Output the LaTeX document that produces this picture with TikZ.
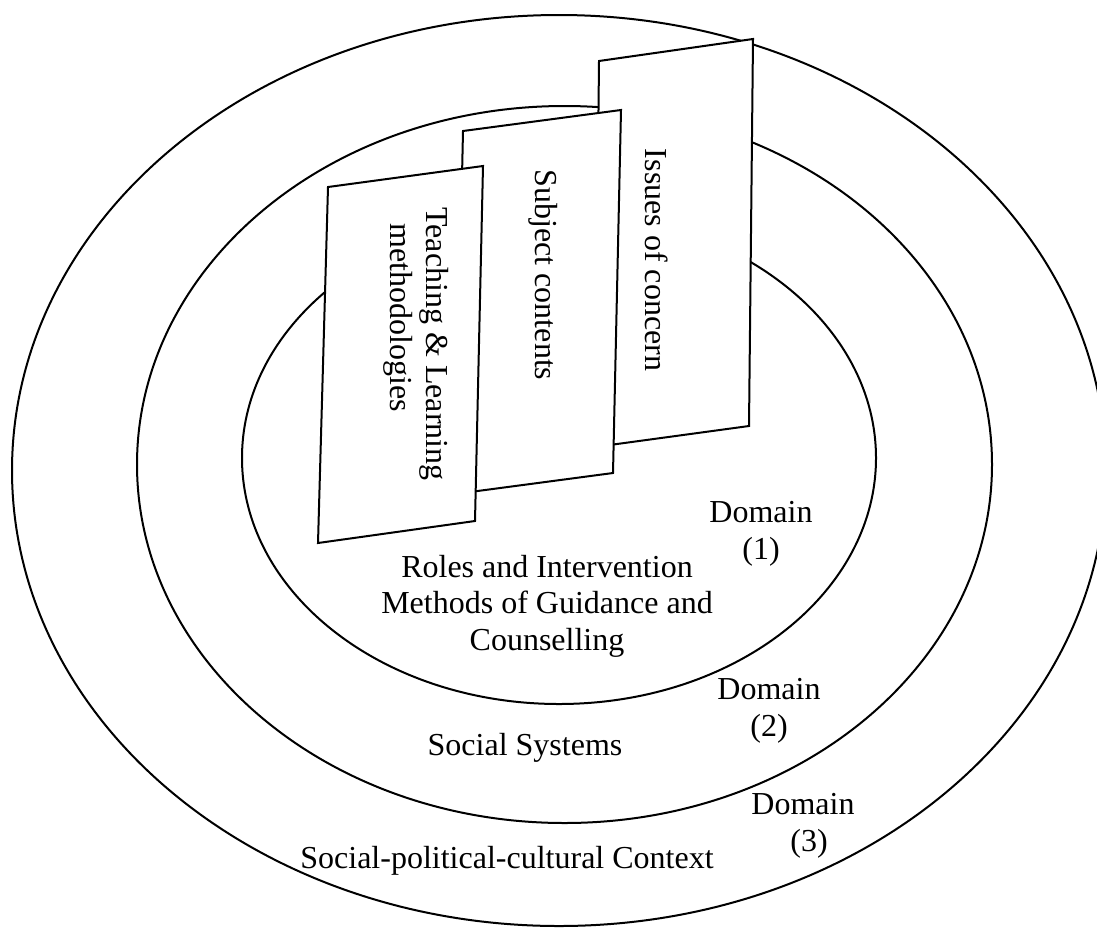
\documentclass[tikz,border=0pt]{standalone}
\usepackage{fontspec}
\setmainfont{Liberation Serif}

\begin{document}
\begin{tikzpicture}[x=0.5pt, y=-0.5pt]
    \tikzstyle{ring} = [draw, line width=1pt]
    \tikzstyle{panel} = [draw, line width=1pt, fill=white]
    \tikzstyle{txt} = [font=\fontsize{16}{18.3}\selectfont, align=center, inner sep=0pt]
    \tikzstyle{paneltxt} = [txt, rotate=-90]

    \useasboundingbox (0,0) rectangle (1097,927);

    % Domain rings (3), (2), (1)
    \draw[ring] (559,470.5) ellipse [x radius=547, y radius=455.5];
    \draw[ring] (564.5,464.5) ellipse [x radius=427.5, y radius=358.5];
    \draw[ring] (559,458) ellipse [x radius=317, y radius=246];

    % Panels, back to front
    \draw[panel] (599,61) -- (753,39) -- (749,426) -- (595,447) -- cycle;
    \draw[panel] (463,131) -- (621,110) -- (613,473) -- (455,494) -- cycle;
    \draw[panel] (328,187) -- (483,166) -- (475,521) -- (318,543) -- cycle;

    % Panel texts
    \node[paneltxt] (issues) at (657,260) {Issues of concern};
    \node[paneltxt] (subject) at (543,275) {Subject contents};
    \node[paneltxt, align=left] (teaching) at (416,344) {Teaching \& Learning\\\hspace*{8pt}methodologies};

    % Labels
    \node[txt] (roles) at (547,606) {Roles and Intervention\\Methods of Guidance and\\Counselling};
    \node[txt] (domone) at (761,534) {Domain\\(1)};
    \node[txt] (social) at (525,747.5) {Social Systems};
    \node[txt] (domtwo) at (769,710.5) {Domain\\(2)};
    \node[txt] (context) at (507,860.5) {Social-political-cultural Context};
    \node[txt] (domthree) at (803,825.5) {Domain\\\hspace*{6pt}(3)};
\end{tikzpicture}
\end{document}
